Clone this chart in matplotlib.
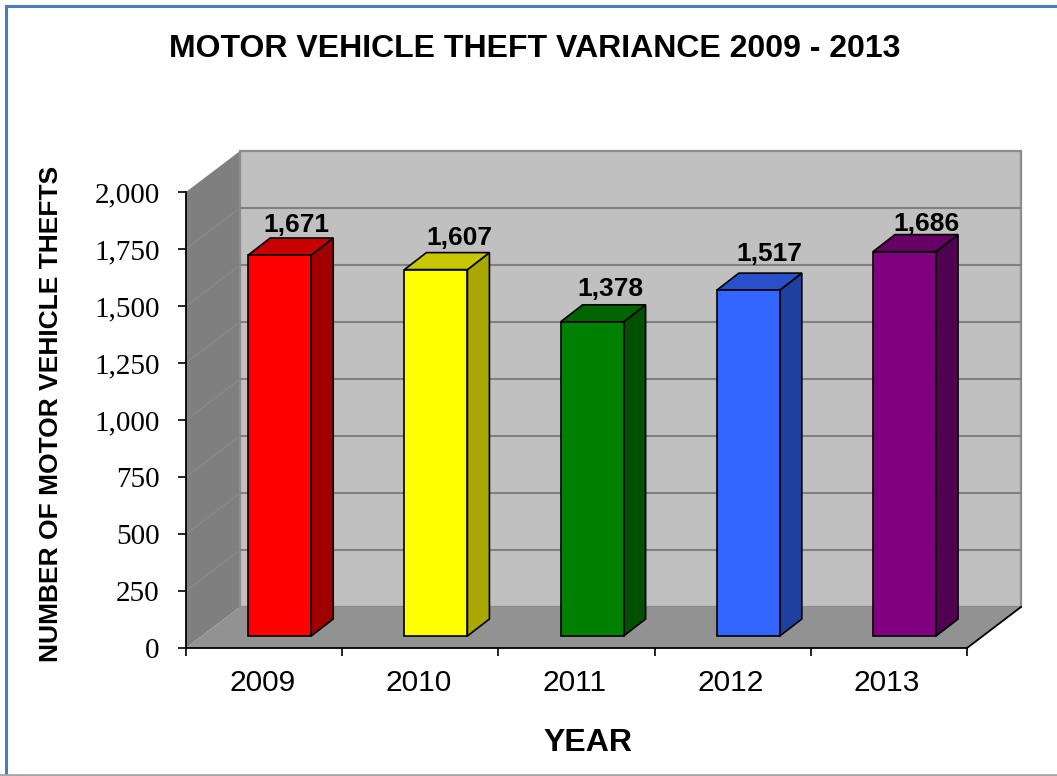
import matplotlib
matplotlib.use('Agg')
import matplotlib.pyplot as plt
from matplotlib.patches import Polygon
from matplotlib.lines import Line2D

years = ['2009', '2010', '2011', '2012', '2013']
thefts = [1671, 1607, 1378, 1517, 1686]
y_ticks = [0, 250, 500, 750, 1000, 1250, 1500, 1750, 2000]

front_colors = ['#ff0000', '#ffff00', '#008000', '#3366ff', '#800080']
top_colors = ['#c80000', '#c8c800', '#006400', '#2850c8', '#660066']
side_colors = ['#a00000', '#a8a800', '#005000', '#2040a0', '#500050']
# label nudges in pixels, they were placed by hand in the original
label_dx = [-1, 5, 0, 3, 4]
label_dy = [-2, 0, 1, 4, -4]

W, H = 1057, 776
left, right, top, bottom = 186, 967, 192, 648

fig = plt.figure(figsize=(W / 100, H / 100), dpi=100)
ax = fig.add_axes([left / W, 1 - bottom / H, (right - left) / W, (bottom - top) / H])
ax.set_xlim(0, len(years))
ax.set_ylim(0, 2000)

px_x = len(years) / (right - left)   # data units per pixel
px_y = 2000 / (bottom - top)
depth_x = 54 * px_x
depth_y = 41 * px_y
n = len(years)

# walls and floor
ax.add_patch(Polygon([(0, 0), (depth_x, depth_y), (depth_x, 2000 + depth_y), (0, 2000)],
                     fc='#7f7f7f', ec='none', clip_on=False, zorder=1))
ax.add_patch(Polygon([(depth_x, depth_y), (n + depth_x, depth_y), (n + depth_x, 2000 + depth_y), (depth_x, 2000 + depth_y)],
                     fc='#c0c0c0', ec='#8c8c8c', lw=1.6, clip_on=False, zorder=1))
for v in y_ticks[1:-1]:
    ax.plot([depth_x, n + depth_x], [v + depth_y, v + depth_y], color='#808080', lw=1.5, clip_on=False, zorder=2)
    ax.plot([0, depth_x], [v, v + depth_y], color='#8a8a8a', lw=0.8, clip_on=False, zorder=2)
ax.add_patch(Polygon([(0, 0), (n, 0), (n + depth_x, depth_y), (depth_x, depth_y)],
                     fc='#929292', ec='none', clip_on=False, zorder=3))
ax.plot([n, n + depth_x], [0, depth_y], color='black', lw=1.3, clip_on=False, zorder=3)

# bars
bar_w = 63 * px_x
shift_y = 12 * px_y
bar_dx = 22 * px_x
bar_dy = 17 * px_y
for i in range(n):
    x0 = i + 0.6 - bar_w / 2
    x1 = x0 + bar_w
    y0 = shift_y
    y1 = shift_y + thefts[i]
    ax.add_patch(Polygon([(x1, y0), (x1 + bar_dx, y0 + bar_dy), (x1 + bar_dx, y1 + bar_dy), (x1, y1)],
                         fc=side_colors[i], ec='black', lw=1.2, clip_on=False, zorder=4))
    ax.add_patch(Polygon([(x0, y1), (x1, y1), (x1 + bar_dx, y1 + bar_dy), (x0 + bar_dx, y1 + bar_dy)],
                         fc=top_colors[i], ec='black', lw=1.2, clip_on=False, zorder=4))
    ax.add_patch(Polygon([(x0, y0), (x1, y0), (x1, y1), (x0, y1)],
                         fc=front_colors[i], ec='black', lw=1.2, clip_on=False, zorder=5))
    ax.annotate(f'{thefts[i]:,}', xy=((x0 + x1 + bar_dx) / 2, y1 + bar_dy),
                xytext=(label_dx[i] + 7, label_dy[i] + 3), textcoords='offset pixels',
                ha='center', va='bottom', fontsize=19, fontweight='bold',
                family='Liberation Sans', annotation_clip=False, zorder=6)

# axes
for s in ['top', 'right']:
    ax.spines[s].set_visible(False)
ax.spines['left'].set_linewidth(1.3)
ax.spines['bottom'].set_linewidth(1.3)
ax.spines['left'].set_zorder(7)
ax.spines['bottom'].set_zorder(7)
ax.patch.set_alpha(0)
ax.set_xticks(range(n + 1))
ax.set_xticklabels([])
ax.set_xticks([i + 0.5 - 2 * px_x for i in range(n)], minor=True)
ax.set_xticklabels(years, minor=True, fontsize=21.5, family='Liberation Sans')
ax.tick_params(axis='x', which='major', length=6, width=1.2, direction='out')
ax.tick_params(axis='x', which='minor', length=0, pad=15)
ax.set_yticks(y_ticks)
ax.set_yticklabels([f'{v:,}' for v in y_ticks], fontsize=21, family='Liberation Serif')
ax.tick_params(axis='y', length=6, width=1.2, pad=13)

# titles
fig.text(535 / W, 1 - 49 / H, 'MOTOR VEHICLE THEFT VARIANCE 2009 - 2013', ha='center', va='center',
         fontsize=23, fontweight='bold', family='Liberation Sans')
fig.text(588 / W, 1 - 743 / H, 'YEAR', ha='center', va='center',
         fontsize=23, fontweight='bold', family='Liberation Sans')
fig.text(51 / W, 1 - 414 / H, 'NUMBER OF MOTOR VEHICLE THEFTS', ha='center', va='center', rotation=90,
         fontsize=19, fontweight='bold', family='Liberation Sans')

# frame around the picture
fig.add_artist(Line2D([6 / W, 6 / W], [0, 1 - 6 / H], color='#4a7ebb', lw=2.2))
fig.add_artist(Line2D([6 / W, 1], [1 - 6 / H, 1 - 6 / H], color='#4a7ebb', lw=2.2))
fig.add_artist(Line2D([0, 1], [1.5 / H, 1.5 / H], color='#a6a6a6', lw=2))

fig.savefig('out.png', dpi=100)
